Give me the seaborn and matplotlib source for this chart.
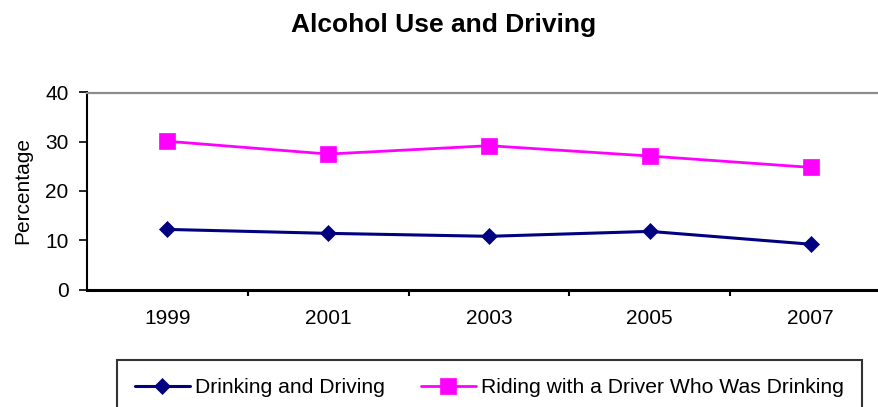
import matplotlib
matplotlib.use("Agg")
import matplotlib.pyplot as plt
import seaborn as sns
import pandas as pd

years = ["1999", "2001", "2003", "2005", "2007"]
drinking_driving = [12.2, 11.4, 10.8, 11.8, 9.2]
riding_with_driver = [30.1, 27.5, 29.2, 27.1, 24.8]
series_names = ["Drinking and Driving", "Riding with a Driver Who Was Drinking"]
y_ticks = [0, 10, 20, 30, 40]

sns.set_style("white")
plt.rcParams["font.family"] = ["Liberation Sans", "DejaVu Sans"]
plt.rcParams["text.color"] = "black"
plt.rcParams["xtick.color"] = "black"
plt.rcParams["ytick.color"] = "black"

W, H = 879, 407
fig = plt.figure(figsize=(W / 100, H / 100), dpi=100)
ax = fig.add_axes([87 / W, (H - 289.5) / H, 804 / W, 197 / H])

df = pd.DataFrame({"year": years, "dd": drinking_driving, "rd": riding_with_driver})

sns.lineplot(data=df, x="year", y="dd", ax=ax, color="#000080", lw=2.2,
             marker="D", markersize=8, markeredgecolor="#000080",
             markeredgewidth=0.5, label=series_names[0], sort=False)
sns.lineplot(data=df, x="year", y="rd", ax=ax, color="#FF00FF", lw=2.0,
             marker="s", markersize=11.3, markeredgecolor="#FF00FF",
             markeredgewidth=0.5, label=series_names[1], sort=False)

ax.set_xlim(-0.5, 4.5)
ax.set_ylim(0, 40)
ax.set_xlabel("")
ax.set_ylabel("")

# y axis
ax.set_yticks(y_ticks)
ax.set_yticklabels([str(v) for v in y_ticks])
ax.tick_params(axis="y", direction="out", length=5.8, width=1.2, pad=7.5,
               labelsize=15, colors="black", left=True)

# x axis: boundary ticks, labels at category centers
ax.set_xticks([0.5, 1.5, 2.5, 3.5])
ax.set_xticklabels([])
ax.set_xticks(range(len(years)), minor=True)
ax.set_xticklabels(years, minor=True)
ax.tick_params(axis="x", which="major", direction="out", length=4, width=1.5,
               colors="black", bottom=True)
ax.tick_params(axis="x", which="minor", length=0, pad=14, labelsize=15,
               colors="black", bottom=True)

ax.spines["right"].set_visible(False)
ax.spines["left"].set_color("black")
ax.spines["left"].set_linewidth(1.5)
ax.spines["bottom"].set_color("black")
ax.spines["bottom"].set_linewidth(2.2)
ax.spines["top"].set_visible(True)
ax.spines["top"].set_color("#8c8c8c")
ax.spines["top"].set_linewidth(1.6)
ax.grid(False)

handles, labels = ax.get_legend_handles_labels()
ax.get_legend().remove()
leg = fig.legend(handles, labels, loc="upper left",
                 bbox_to_anchor=(117 / W, 1 - 360 / H), ncol=2,
                 fontsize=15.2, frameon=True, fancybox=False,
                 handlelength=2.6, handletextpad=0.25, columnspacing=1.7,
                 borderpad=0.85, borderaxespad=0)
leg.get_frame().set_edgecolor("black")
leg.get_frame().set_linewidth(1.5)
for t in leg.get_texts():
    t.set_color("black")

fig.text(444 / W, 1 - 32 / H, "Alcohol Use and Driving", ha="center",
         va="baseline", fontsize=19, fontweight="bold", color="black")
fig.text(23 / W, 1 - 190 / H, "Percentage", ha="center", va="center",
         rotation=90, fontsize=15, color="black")

fig.savefig("out.png", dpi=100)
